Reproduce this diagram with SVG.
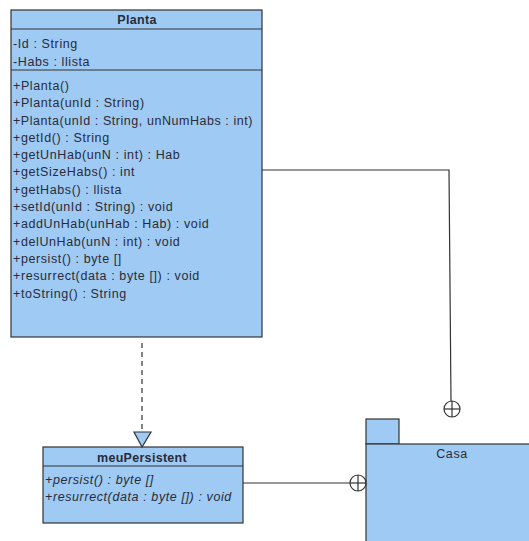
<svg xmlns="http://www.w3.org/2000/svg" width="529" height="541" viewBox="0 0 529 541">
<style>
.box{fill:#9ecaf3;stroke:#333;stroke-width:1.2}
.sep{stroke:#333;stroke-width:1.2}
.t{font-family:"Liberation Sans",Arial,sans-serif;font-size:12.5px;letter-spacing:0.6px;fill:#2a2a3a}
.b{font-weight:bold;text-anchor:middle;letter-spacing:0.3px}
.i{font-style:italic}
.ln{fill:none;stroke:#333;stroke-width:1.2}
.circ{fill:none;stroke:#333;stroke-width:1.2}
</style>
<rect x="0" y="0" width="529" height="541" fill="#fff"/>
<g id="Planta">
<rect class="box" x="11" y="10" width="251" height="327"/>
<line class="sep" x1="11" y1="29" x2="262" y2="29"/>
<line class="sep" x1="11" y1="70" x2="262" y2="70"/>
<text class="t b" x="137" y="24">Planta</text>
<text class="t" x="13" y="48">-Id : String</text>
<text class="t" x="13" y="66">-Habs : llista</text>
<text class="t" x="13" y="90">+Planta()</text>
<text class="t" x="13" y="107">+Planta(unId : String)</text>
<text class="t" x="13" y="125" textLength="240" lengthAdjust="spacing">+Planta(unId : String, unNumHabs : int)</text>
<text class="t" x="13" y="142">+getId() : String</text>
<text class="t" x="13" y="159">+getUnHab(unN : int) : Hab</text>
<text class="t" x="13" y="176">+getSizeHabs() : int</text>
<text class="t" x="13" y="194">+getHabs() : llista</text>
<text class="t" x="13" y="211">+setId(unId : String) : void</text>
<text class="t" x="13" y="228">+addUnHab(unHab : Hab) : void</text>
<text class="t" x="13" y="246">+delUnHab(unN : int) : void</text>
<text class="t" x="13" y="263">+persist() : byte []</text>
<text class="t" x="13" y="280">+resurrect(data : byte []) : void</text>
<text class="t" x="13" y="298">+toString() : String</text>
</g>
<g id="meuPersistent">
<rect class="box" x="43" y="447" width="200" height="76"/>
<line class="sep" x1="43" y1="466" x2="243" y2="466"/>
<text class="t b" x="142" y="462">meuPersistent</text>
<text class="t i" x="45" y="484">+persist() : byte []</text>
<text class="t i" x="45" y="501">+resurrect(data : byte []) : void</text>
</g>
<g id="Casa">
<rect class="box" x="366" y="419" width="33" height="25"/>
<rect class="box" x="366" y="444" width="170" height="110"/>
<text class="t" x="452" y="458" text-anchor="middle">Casa</text>
</g>
<g id="connectors">
<line class="ln" x1="142" y1="343" x2="142" y2="432" stroke-dasharray="5,4"/>
<polygon points="134,432 151,432 142,447" fill="#9ecaf3" stroke="#333" stroke-width="1.2"/>
<polyline class="ln" points="262,170 449,170 451,401"/>
<circle class="circ" cx="452" cy="409" r="8"/>
<line class="sep" x1="444" y1="409" x2="460" y2="409"/>
<line class="sep" x1="452" y1="401" x2="452" y2="417"/>
<line class="ln" x1="243" y1="483" x2="350" y2="483"/>
<circle class="circ" cx="358" cy="483" r="8"/>
<line class="sep" x1="350" y1="483" x2="366" y2="483"/>
<line class="sep" x1="358" y1="475" x2="358" y2="491"/>
</g>
</svg>
